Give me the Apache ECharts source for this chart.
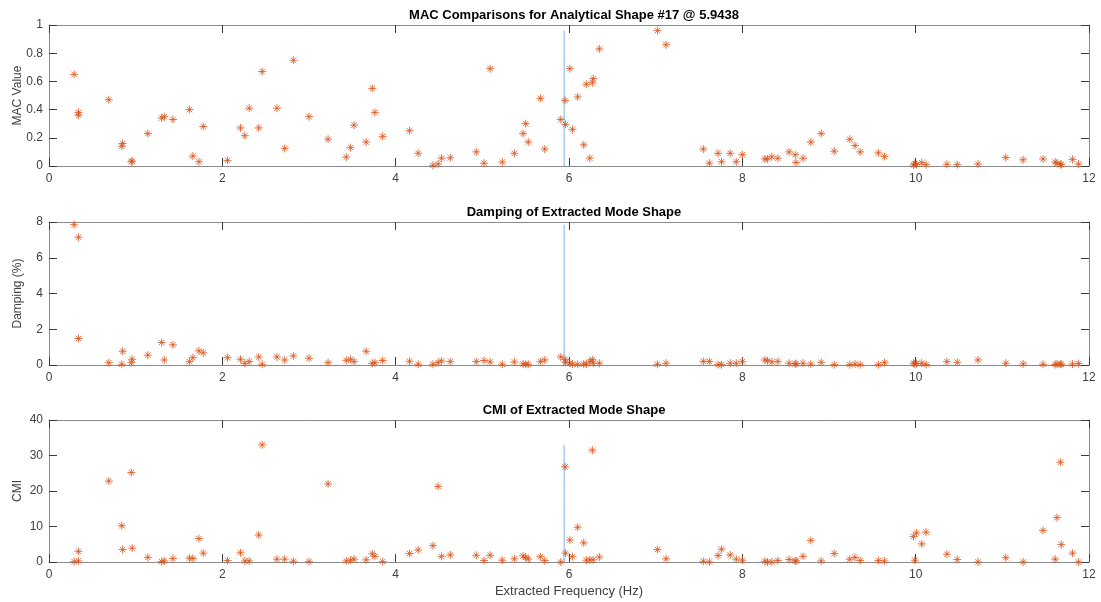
<!DOCTYPE html>
<html>
<head>
<meta charset="utf-8">
<script src="https://cdn.jsdelivr.net/npm/echarts@6/dist/echarts.min.js"></script>
<style>
html,body{margin:0;padding:0;background:#fff;}
#chart{width:1101px;height:602px;}
</style>
</head>
<body>
<div id="chart"></div>
<script>
// ---- data ----
const analyticalFreq = 5.9438;
const freq = [0.29,0.34,0.34,0.69,0.84,0.85,0.95,0.96,1.14,1.30,1.33,1.43,1.62,1.66,1.73,1.78,2.06,2.21,2.26,2.31,2.42,2.46,2.63,2.72,2.82,3.00,3.22,3.43,3.48,3.52,3.66,3.73,3.76,3.85,4.16,4.26,4.43,4.49,4.53,4.63,4.93,5.02,5.09,5.23,5.37,5.47,5.50,5.53,5.67,5.72,5.905,5.96,5.955,6.01,6.04,6.10,6.17,6.20,6.24,6.27,6.28,6.35,7.02,7.12,7.55,7.62,7.72,7.76,7.86,7.93,8.00,8.26,8.29,8.34,8.41,8.54,8.61,8.62,8.70,8.79,8.91,9.06,9.24,9.30,9.36,9.57,9.64,9.975,9.99,10.01,10.07,10.12,10.36,10.48,10.72,11.04,11.24,11.47,11.61,11.63,11.67,11.68,11.81,11.88];
const macValue = [0.65,0.38,0.36,0.47,0.14,0.16,0.03,0.035,0.23,0.34,0.35,0.33,0.40,0.07,0.03,0.28,0.04,0.27,0.215,0.41,0.27,0.67,0.41,0.125,0.75,0.35,0.19,0.063,0.13,0.29,0.17,0.55,0.38,0.21,0.25,0.09,0.005,0.015,0.056,0.058,0.10,0.02,0.69,0.028,0.09,0.23,0.30,0.17,0.48,0.12,0.33,0.295,0.465,0.69,0.26,0.49,0.15,0.58,0.056,0.59,0.62,0.83,0.96,0.86,0.12,0.02,0.09,0.03,0.09,0.03,0.08,0.05,0.05,0.065,0.055,0.10,0.08,0.025,0.055,0.17,0.23,0.105,0.19,0.145,0.10,0.093,0.067,0.007,0.016,0.01,0.023,0.01,0.012,0.01,0.014,0.06,0.044,0.05,0.028,0.019,0.01,0.012,0.047,0.014];
const dampingPct = [7.85,7.15,1.48,0.13,0.04,0.77,0.13,0.32,0.55,1.26,0.28,1.13,0.19,0.41,0.79,0.68,0.41,0.32,0.09,0.19,0.45,0.04,0.45,0.28,0.51,0.38,0.13,0.26,0.32,0.19,0.77,0.09,0.13,0.25,0.21,0.04,0.04,0.13,0.23,0.19,0.19,0.25,0.17,0.04,0.17,0.06,0.04,0.04,0.19,0.28,0.45,0.15,0.30,0.10,0.05,0.04,0.05,0.05,0.20,0.30,0.10,0.10,0.04,0.10,0.20,0.20,0.02,0.02,0.10,0.10,0.19,0.28,0.24,0.17,0.20,0.10,0.05,0.08,0.10,0.05,0.15,0.02,0.02,0.05,0.02,0.02,0.13,0.10,0.06,0.08,0.10,0.03,0.19,0.15,0.28,0.10,0.06,0.04,0.03,0.05,0.04,0.05,0.05,0.08];
const cmiValue = [0.1,3.0,0.3,22.8,10.2,3.5,25.2,3.9,1.3,0.1,0.3,1.0,1.1,1.0,6.6,2.5,0.4,2.6,0.3,0.3,7.6,33.0,0.8,0.8,0.2,0.1,22.0,0.3,0.5,0.8,0.6,2.3,1.6,0.1,2.4,3.4,4.6,21.3,1.6,2.0,1.9,0.4,1.9,0.5,0.9,1.7,1.3,0.8,1.5,0.4,0.0,2.5,26.8,6.2,1.5,9.8,5.4,0.5,0.6,31.5,0.6,1.4,3.5,0.9,0.2,0.0,1.8,3.6,2.0,0.8,0.5,0.2,0.0,0.0,0.4,0.7,0.3,0.3,1.6,6.1,0.3,2.4,0.8,1.3,0.4,0.4,0.3,7.2,0.5,8.2,5.1,8.4,2.2,0.7,0.0,1.2,0.0,8.9,0.8,12.5,28.1,4.9,2.5,0.0];
const xTicks = {min: 0, max: 12, interval: 2};
const macTicks = {min: 0, max: 1, interval: 0.2};
const dampTicks = {min: 0, max: 8, interval: 2};
const cmiTicks = {min: 0, max: 40, interval: 10};
const titles = ['MAC Comparisons for Analytical Shape #17 @ 5.9438','Damping of Extracted Mode Shape','CMI of Extracted Mode Shape'];
const yNames = ['MAC Value','Damping (%)','CMI'];
const xName = 'Extracted Frequency (Hz)';

// ---- chart ----
const FONT = '"Liberation Sans", Arial, sans-serif';
const ORANGE = '#D95319';
const BLUE = '#7DB3E3';
const ASTERISK = 'path://M5,0L5,10M0,5L10,5M1.6,1.6L8.4,8.4M1.6,8.4L8.4,1.6';
const grids = [
  {left: 49, width: 1040, top: 25, height: 141},
  {left: 49, width: 1040, top: 222, height: 143},
  {left: 49, width: 1040, top: 420, height: 142}
];
const yTickSets = [macTicks, dampTicks, cmiTicks];
const ySeries = [macValue, dampingPct, cmiValue];

const axisLine = {show: true, onZero: false, lineStyle: {color: '#8a8a8a', width: 1}};
const axisTick = {show: true, inside: true, length: 8, lineStyle: {color: '#3a3a3a', width: 1}};
const labelStyle = {color: '#404040', fontFamily: FONT, fontSize: 12};

const xAxes = [], yAxes = [], series = [], title = [];
grids.forEach((g, i) => {
  g.containLabel = false;
  g.outerBoundsMode = 'none';
  xAxes.push({
    type: 'value', gridIndex: i, position: 'bottom',
    min: xTicks.min, max: xTicks.max, interval: xTicks.interval,
    axisLine: axisLine, axisTick: axisTick, splitLine: {show: false},
    axisLabel: Object.assign({margin: 7}, labelStyle),
    name: i === 2 ? xName : '', nameLocation: 'middle', nameGap: 23, nameMoveOverlap: false,
    nameTextStyle: {color: '#404040', fontFamily: FONT, fontSize: 13}
  });
  xAxes.push({
    type: 'value', gridIndex: i, position: 'top',
    min: xTicks.min, max: xTicks.max, interval: xTicks.interval,
    axisLine: axisLine, axisTick: axisTick, splitLine: {show: false},
    axisLabel: {show: false}
  });
  const t = yTickSets[i];
  yAxes.push({
    type: 'value', gridIndex: i, position: 'left',
    min: t.min, max: t.max, interval: t.interval,
    axisLine: axisLine, axisTick: axisTick, splitLine: {show: false},
    axisLabel: Object.assign({margin: 6}, labelStyle),
    name: yNames[i], nameLocation: 'middle', nameGap: 25, nameRotate: 90, nameMoveOverlap: false,
    nameTextStyle: {color: '#404040', fontFamily: FONT, fontSize: 12}
  });
  yAxes.push({
    type: 'value', gridIndex: i, position: 'right',
    min: t.min, max: t.max, interval: t.interval,
    axisLine: axisLine, axisTick: axisTick, splitLine: {show: false},
    axisLabel: {show: false}
  });
  const vals = ySeries[i];
  series.push({
    type: 'line', xAxisIndex: 2 * i, yAxisIndex: 2 * i,
    data: [[analyticalFreq, 0], [analyticalFreq, Math.max.apply(null, vals)]],
    symbol: 'none', lineStyle: {color: BLUE, width: 1}, silent: true, z: 2
  });
  series.push({
    type: 'scatter', xAxisIndex: 2 * i, yAxisIndex: 2 * i,
    data: freq.map((f, k) => [f, vals[k]]),
    symbol: ASTERISK, symbolSize: 8,
    itemStyle: {color: 'rgba(0,0,0,0)', borderColor: ORANGE, borderWidth: 1},
    z: 3
  });
  title.push({
    text: titles[i], left: 569, top: g.top - 21, textAlign: 'center',
    textStyle: {fontFamily: FONT, fontSize: 13, fontWeight: 'bold', color: '#000'}
  });
});

const chart = echarts.init(document.getElementById('chart'), null, {renderer: 'canvas'});
chart.setOption({
  backgroundColor: '#fff',
  animation: false,
  title: title,
  grid: grids,
  xAxis: xAxes,
  yAxis: yAxes,
  series: series
});
</script>
</body>
</html>
